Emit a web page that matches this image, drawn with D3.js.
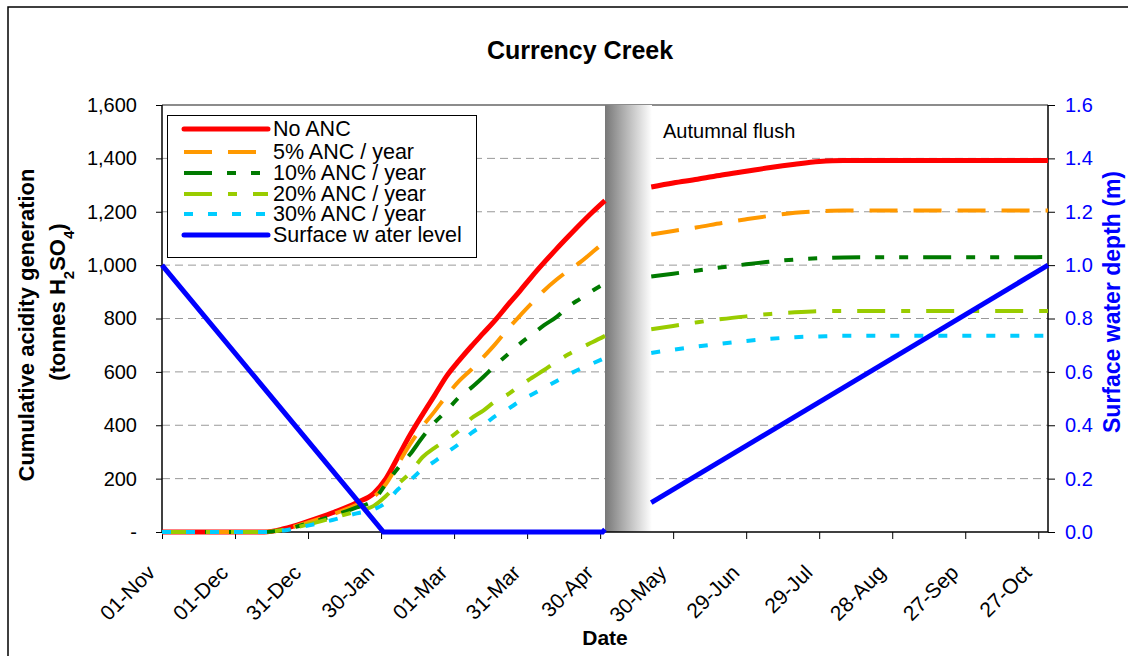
<!DOCTYPE html>
<html><head><meta charset="utf-8">
<script src="https://cdn.jsdelivr.net/npm/d3@7/dist/d3.min.js"></script>
<style>body{margin:0;background:#fff}svg text{font-family:"Liberation Sans",Arial,sans-serif}</style>
</head><body><svg id="c" width="1128" height="656"></svg>
<script>
// ---- data ----
const tickDays = [0,30,60,90,120,150,180,210,240,270,300,330,360];
const tickLabels = ["01-Nov","01-Dec","31-Dec","30-Jan","01-Mar","31-Mar","30-Apr","30-May","29-Jun","29-Jul","28-Aug","27-Sep","27-Oct"];
const leftTicks = [0,200,400,600,800,1000,1200,1400,1600];
const leftTickLabels = ["-","200","400","600","800","1,000","1,200","1,400","1,600"];
const rightTicks = [0,0.2,0.4,0.6,0.8,1.0,1.2,1.4,1.6];
const rightTickLabels = ["0.0","0.2","0.4","0.6","0.8","1.0","1.2","1.4","1.6"];

const preDays  = [0,42,50,60,70,80,87,92,97,102,107,112,117,122,127,132,137,142,147,152,157,162,167,172,177,182];
const postDays = [201,210,220,230,240,250,260,270,280,364];

const noAncPre  = [0,0,12,40,72,110,145,200,282,365,440,512,585,642,695,745,795,850,903,958,1010,1060,1108,1155,1200,1242];
const noAncPost = [1293,1308,1322,1338,1352,1366,1378,1388,1392,1392];
const anc5Pre   = [0,0,10,36,66,102,132,180,255,330,395,452,512,565,608,655,705,760,810,858,905,945,980,1012,1050,1088];
const anc5Post  = [1115,1128,1142,1158,1172,1185,1196,1202,1205,1205];
const anc10Pre  = [0,0,9,32,60,92,120,180,240,292,355,410,455,505,540,581,625,665,705,740,775,805,845,875,905,932];
const anc10Post = [957,968,980,992,1003,1013,1021,1026,1029,1030];
const anc20Pre  = [0,0,8,28,52,78,98,135,180,222,280,315,345,380,425,455,490,515,548,578,607,638,666,690,712,735];
const anc20Post = [760,772,786,798,808,817,823,827,828,828];
const anc30Pre  = [0,0,6,24,45,70,85,110,160,195,235,265,298,330,370,400,435,460,490,515,540,565,590,612,632,652];
const anc30Post = [671,683,695,706,716,724,730,733,735,735];

const waterDaysPre  = [0,91,181,182];
const waterPre      = [1.0,0,0,0.01];
const waterDaysPost = [201,364];
const waterPost     = [0.11,1.0];

const flushBand = [182,201.3];

const seriesNames = ["No ANC","5% ANC / year","10% ANC / year","20% ANC / year","30% ANC / year","Surface w ater level"];

// ---- styles ----
const styles = [
  {color:"#ff0000", w:5, dash:null},
  {color:"#ff9900", w:4, dash:"28,16"},
  {color:"#007a00", w:4, dash:"28,15,9,15,9,15"},
  {color:"#99cc00", w:4, dash:"28,16,9,16"},
  {color:"#00ccff", w:4, dash:"9,15"},
  {color:"#0000ff", w:5, dash:null}
];

const svg = d3.select("#c");
const L=162, R=1048, T=105, B=532;
const x = d3.scaleLinear().domain([0,364]).range([L,R]);
const y = d3.scaleLinear().domain([0,1600]).range([B,T]);
const y2 = d3.scaleLinear().domain([0,1.6]).range([B,T]);

// outer frame
svg.append("rect").attr("x",8).attr("y",7).attr("width",1200).attr("height",700)
  .attr("fill","#fff").attr("stroke","#000").attr("stroke-width",1.5);

// title
svg.append("text").attr("x",580).attr("y",59).attr("text-anchor","middle")
  .attr("font-size",25).attr("font-weight","bold").text("Currency Creek");

// gridlines
svg.append("g").selectAll("line").data(leftTicks.filter(d=>d>0 && d<1600)).join("line")
  .attr("x1",L).attr("x2",R).attr("y1",d=>y(d)).attr("y2",d=>y(d))
  .attr("stroke","#999").attr("stroke-width",1).attr("stroke-dasharray","8,5");
// top border
svg.append("line").attr("x1",L).attr("x2",R).attr("y1",T).attr("y2",T).attr("stroke","#8c8c8c").attr("stroke-width",2);

// flush band
const defs = svg.append("defs");
const g = defs.append("linearGradient").attr("id","fl").attr("x1","0").attr("x2","1").attr("y1","0").attr("y2","0");
g.append("stop").attr("offset","0").attr("stop-color","#777");
g.append("stop").attr("offset","0.35").attr("stop-color","#a8a8a8");
g.append("stop").attr("offset","1").attr("stop-color","#fff");
svg.append("rect").attr("x",x(flushBand[0])).attr("y",T).attr("width",x(flushBand[1])-x(flushBand[0]))
  .attr("height",B-T).attr("fill","url(#fl)");

svg.append("text").attr("x",663).attr("y",138).attr("font-size",20).text("Autumnal flush");

// axes
const xAxis = d3.axisBottom(x).tickValues(tickDays).tickFormat((d,i)=>tickLabels[i]).tickSizeOuter(0).tickSize(7);
const gx = svg.append("g").attr("transform",`translate(0,${B})`).call(xAxis);
gx.select(".domain").remove();
gx.selectAll("line").attr("stroke","#000");
gx.selectAll("text").attr("font-size",21).attr("fill","#000")
  .attr("text-anchor","end").attr("dx",null).attr("dy",null).attr("y",null).attr("x",null)
  .attr("transform","translate(-6,42) rotate(-45)");

const yAxis = d3.axisLeft(y).tickValues(leftTicks).tickFormat((d,i)=>leftTickLabels[i]).tickSizeOuter(0).tickSize(6).tickPadding(19);
const gy = svg.append("g").attr("transform",`translate(${L},0)`).call(yAxis);
gy.select(".domain").remove();
gy.selectAll("text").attr("font-size",20).attr("fill","#000");

const yAxis2 = d3.axisRight(y2).tickValues(rightTicks).tickFormat((d,i)=>rightTickLabels[i]).tickSizeOuter(0).tickSize(7).tickPadding(10);
const gy2 = svg.append("g").attr("transform",`translate(${R},0)`).call(yAxis2);
gy2.select(".domain").remove();
gy2.selectAll("text").attr("font-size",20).attr("fill","#0000ff");

// axis lines
svg.append("line").attr("x1",L).attr("x2",L).attr("y1",T).attr("y2",B).attr("stroke","#000").attr("stroke-width",1.5);
svg.append("line").attr("x1",R).attr("x2",R).attr("y1",T).attr("y2",B).attr("stroke","#000").attr("stroke-width",1.5);
svg.append("line").attr("x1",L).attr("x2",R).attr("y1",B).attr("y2",B).attr("stroke","#000").attr("stroke-width",1.5);

// series
const acid = [[noAncPre,noAncPost],[anc5Pre,anc5Post],[anc10Pre,anc10Post],[anc20Pre,anc20Post],[anc30Pre,anc30Post]];
const lineA = d3.line().x(d=>x(d[0])).y(d=>y(d[1])).curve(d3.curveMonotoneX);
const lineW = d3.line().x(d=>x(d[0])).y(d=>y2(d[1]));
const plot = svg.append("g");
acid.forEach((s,i)=>{
  const st = styles[i];
  [[preDays,s[0]],[postDays,s[1]]].forEach(([ds,vs])=>{
    plot.append("path").datum(ds.map((d,k)=>[d,vs[k]])).attr("d",lineA)
      .attr("fill","none").attr("stroke",st.color).attr("stroke-width",st.w)
      .attr("stroke-dasharray",st.dash);
  });
});
[[waterDaysPre,waterPre],[waterDaysPost,waterPost]].forEach(([ds,vs])=>{
  plot.append("path").datum(ds.map((d,k)=>[d,vs[k]])).attr("d",lineW)
    .attr("fill","none").attr("stroke",styles[5].color).attr("stroke-width",styles[5].w);
});

// legend
const lg = svg.append("g");
lg.append("rect").attr("x",167.5).attr("y",115.5).attr("width",309).attr("height",142)
  .attr("fill","#fff").attr("stroke","#000").attr("stroke-width",1);
const rowsY = [129,152,173,194,214,235];
seriesNames.forEach((n,i)=>{
  const st = styles[i];
  lg.append("line").attr("x1",184).attr("x2",268).attr("y1",rowsY[i]).attr("y2",rowsY[i])
    .attr("stroke",st.color).attr("stroke-width",st.w).attr("stroke-dasharray",st.dash)
    .attr("stroke-linecap", st.dash? "butt":"round");
  lg.append("text").attr("x",273).attr("y",rowsY[i]+7).attr("font-size",21.5).text(n);
});

// axis titles
svg.append("text").attr("transform","translate(34,325) rotate(-90)").attr("text-anchor","middle")
  .attr("font-size",22).attr("font-weight","bold").text("Cumulative acidity generation");
const lt2 = svg.append("text").attr("transform","translate(65,302) rotate(-90)").attr("text-anchor","middle")
  .attr("font-size",22).attr("font-weight","bold");
lt2.append("tspan").text("(tonnes H");
lt2.append("tspan").attr("baseline-shift","sub").attr("font-size",15).text("2");
lt2.append("tspan").text("SO");
lt2.append("tspan").attr("baseline-shift","sub").attr("font-size",15).text("4");
lt2.append("tspan").text(")");

svg.append("text").attr("transform","translate(1120,302) rotate(-90)").attr("text-anchor","middle")
  .attr("font-size",23).attr("font-weight","bold").attr("fill","#0000ff").text("Surface water depth (m)");

svg.append("text").attr("x",605).attr("y",645).attr("text-anchor","middle")
  .attr("font-size",21).attr("font-weight","bold").text("Date");
</script></body></html>
